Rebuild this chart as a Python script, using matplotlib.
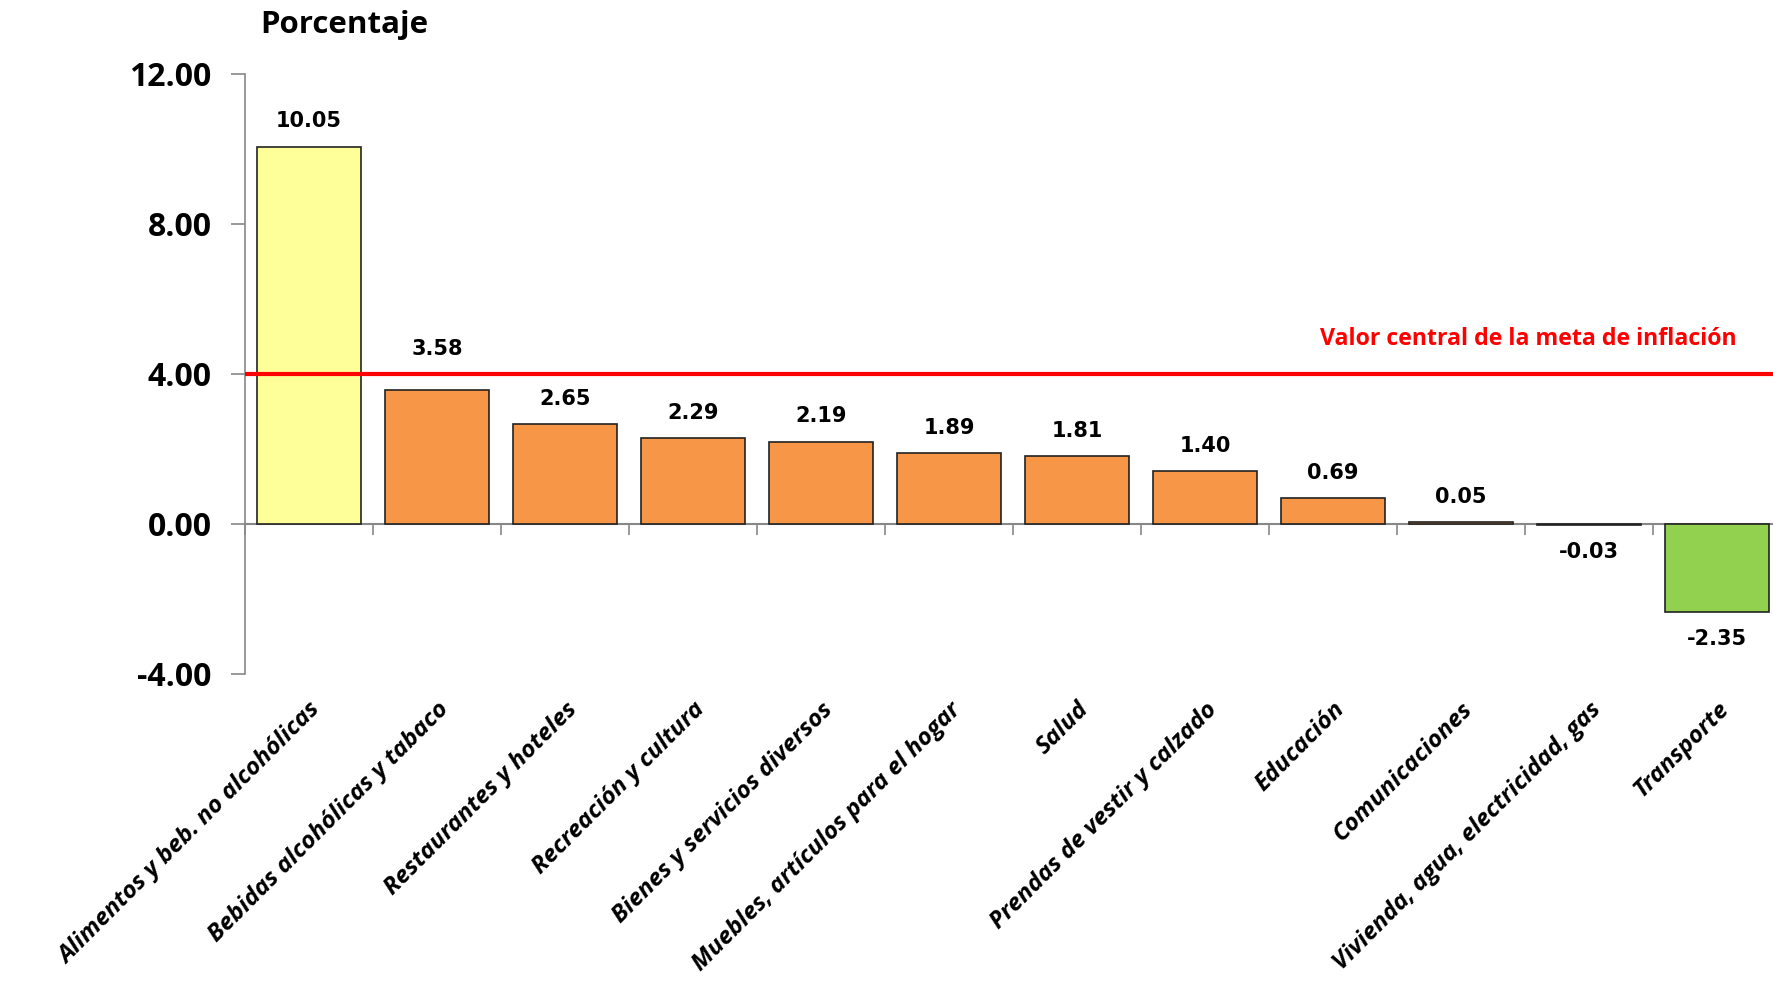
import matplotlib.pyplot as plt
import numpy as np

categorias = ['Alimentos y beb. no alcohólicas', 'Bebidas alcohólicas y tabaco',
              'Restaurantes y hoteles', 'Recreación y cultura',
              'Bienes y servicios diversos', 'Muebles, artículos para el hogar',
              'Salud', 'Prendas de vestir y calzado', 'Educación',
              'Comunicaciones', 'Vivienda, agua, electricidad, gas', 'Transporte']
valores = [10.05, 3.58, 2.65, 2.29, 2.19, 1.89, 1.81, 1.40, 0.69, 0.05, -0.03, -2.35]
colores = ['#FFFF99'] + ['#F79646'] * 10 + ['#92D050']
meta = 4.0
yticks = [-4, 0, 4, 8, 12]

fig = plt.figure(figsize=(17.74, 9.9), dpi=100)
ax = fig.add_axes([245 / 1774, 1 - 674 / 990, 1536 / 1774, (674 - 73.5) / 990])

x = np.arange(len(categorias))
bars = ax.bar(x, valores, width=0.82, color=colores, edgecolor='#222222', linewidth=1.2, zorder=2)

# etiquetas de valor
for xi, v in zip(x, valores):
    if v >= 0:
        # la etiqueta sube si choca con la linea de la meta
        dy = 22 if meta - 1 < v < meta else 11
        ax.annotate(f'{v:.2f}', (xi, v), xytext=(0, dy), textcoords='offset points',
                    ha='center', va='bottom', fontsize=15, fontweight='bold', family='DejaVu Sans')
    else:
        ax.annotate(f'{v:.2f}', (xi, v), xytext=(0, -12), textcoords='offset points',
                    ha='center', va='top', fontsize=15, fontweight='bold', family='DejaVu Sans')

# meta de inflacion
ax.axhline(meta, color='#FF0000', linewidth=3, zorder=3)
ax.text(0.971, meta + 0.6, 'Valor central de la meta de inflación', transform=ax.get_yaxis_transform(),
        color='#FF0000', ha='right', va='bottom', fontsize=16.7, fontweight='bold', family='Open Sans')

ax.set_xlim(-0.5, len(categorias) - 0.5)
ax.set_ylim(-4, 12)
ax.set_yticks(yticks)
ax.set_yticklabels([f'{t:.2f}' for t in yticks], fontsize=23, fontweight='bold', family='Open Sans')
ax.tick_params(axis='y', colors='#888888', length=10, width=1.2, labelcolor='black', pad=14)

ax.set_xticks(x)
ax.set_xticklabels(categorias, rotation=45, ha='right', rotation_mode='anchor',
                   fontsize=17.5, fontweight='bold', fontstyle='italic', family='Open Sans')
ax.tick_params(axis='x', length=0, pad=17)

for s in ['top', 'right', 'bottom']:
    ax.spines[s].set_visible(False)
ax.spines['left'].set_color('#888888')
ax.spines['left'].set_linewidth(1.2)

# eje en cero con marcas entre categorias
eje = ax.secondary_xaxis(0, transform=ax.transData)
eje.set_xticks(np.arange(len(categorias) + 1) - 0.5)
eje.set_xticklabels([])
eje.tick_params(length=8, width=1.2, colors='#888888')
eje.spines['bottom'].set_color('#888888')
eje.spines['bottom'].set_linewidth(1.5)

fig.text(260 / 1774, 1 - 25 / 990, 'Porcentaje', ha='left', va='center',
         fontsize=22.5, fontweight='bold', family='Open Sans')

fig.savefig('out.png', dpi=100)
